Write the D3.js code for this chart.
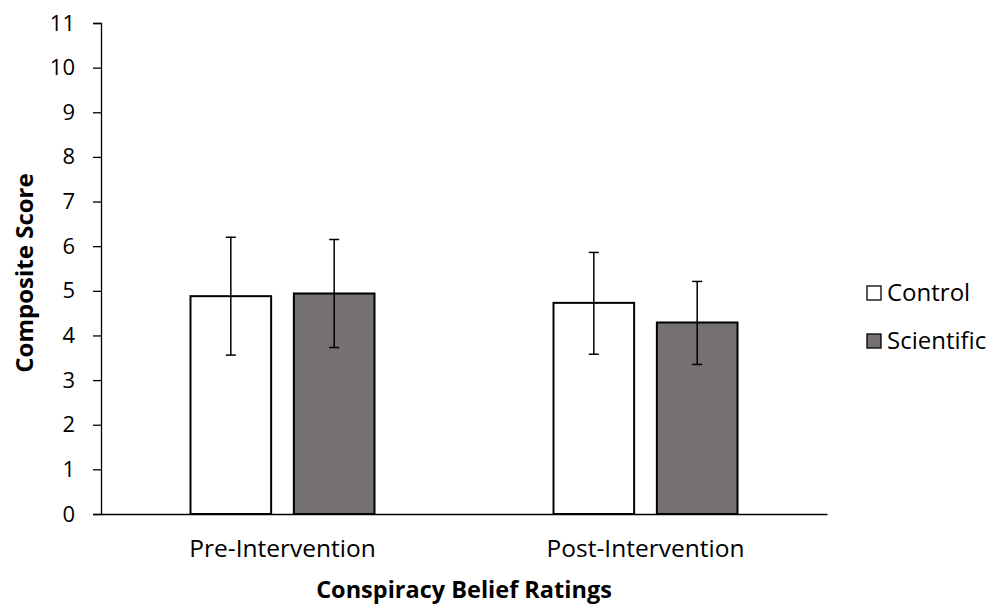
<!DOCTYPE html>
<html>
<head>
<meta charset="utf-8">
<script src="https://cdn.jsdelivr.net/npm/d3@7"></script>
<style>
  body { margin: 0; background: #fff; }
  text { font-family: "Open Sans", sans-serif; fill: #000; }
</style>
</head>
<body>
<svg id="chart" width="999" height="611"></svg>
<script>
const categories = ["Pre-Intervention", "Post-Intervention"];
const seriesNames = ["Control", "Scientific"];
const seriesColors = ["#ffffff", "#767171"];
const controlValues = [4.88, 4.73];
const scientificValues = [4.94, 4.29];
const controlErrLow = [3.56, 3.58];
const controlErrHigh = [6.20, 5.86];
const scientificErrLow = [3.73, 3.35];
const scientificErrHigh = [6.15, 5.21];
const yTicks = d3.range(0, 12);

const margin = {top: 23, right: 172, bottom: 97, left: 101},
  width = 999 - margin.left - margin.right,
  height = 611 - margin.top - margin.bottom;

const rows = [];
categories.forEach((c, i) => {
  rows.push({cat: c, s: 0, v: controlValues[i], lo: controlErrLow[i], hi: controlErrHigh[i]});
  rows.push({cat: c, s: 1, v: scientificValues[i], lo: scientificErrLow[i], hi: scientificErrHigh[i]});
});

const svg = d3.select("#chart");
const g = svg.append("g").attr("transform", `translate(${margin.left},${margin.top})`);

const x = d3.scaleBand().domain(categories).range([0, width]);
const xs = d3.scaleBand().domain([0, 1]).range([0, 184]).paddingInner(0.22);
const y = d3.scaleLinear().domain([0, 11]).range([height, 0]);

// y axis
const yAxis = g.append("g")
  .call(d3.axisLeft(y).tickValues(yTicks).tickSize(8).tickPadding(18).tickFormat(d3.format("d")));
yAxis.select(".domain").attr("stroke", "#000").attr("stroke-width", 1.3);
yAxis.selectAll(".tick line").attr("stroke", "#000").attr("stroke-width", 1.3);
yAxis.selectAll(".tick text").style("font-size", "22px").attr("font-family", null);

// bars
const barG = g.selectAll("g.bar")
  .data(rows)
  .join("g")
  .attr("class", "bar")
  .attr("transform", d => `translate(${x(d.cat) + x.bandwidth() / 2 - 92 + xs(d.s)},0)`);

barG.append("rect")
  .attr("x", 0)
  .attr("y", d => y(d.v))
  .attr("width", xs.bandwidth())
  .attr("height", d => height - y(d.v))
  .attr("fill", d => seriesColors[d.s])
  .attr("stroke", "#000")
  .attr("stroke-width", 2);

// error bars
const cx = xs.bandwidth() / 2;
barG.append("line")
  .attr("x1", cx).attr("x2", cx)
  .attr("y1", d => y(d.hi)).attr("y2", d => y(d.lo))
  .attr("stroke", "#000").attr("stroke-width", 1.5);
barG.selectAll("line.cap")
  .data(d => [d.lo, d.hi])
  .join("line")
  .attr("class", "cap")
  .attr("x1", cx - 5).attr("x2", cx + 5)
  .attr("y1", v => y(v)).attr("y2", v => y(v))
  .attr("stroke", "#000").attr("stroke-width", 1.5);

// x axis
const xAxis = g.append("g")
  .attr("transform", `translate(0,${height})`)
  .call(d3.axisBottom(x).tickSize(0).tickPadding(26));
xAxis.select(".domain").attr("stroke", "#000").attr("stroke-width", 1.3);
xAxis.selectAll(".tick text").style("font-size", "24.5px").attr("font-family", null);

// axis titles
svg.append("text")
  .attr("transform", `translate(33,${273}) rotate(-90)`)
  .attr("text-anchor", "middle")
  .style("font-size", "24px").style("font-weight", "bold")
  .text("Composite Score");

svg.append("text")
  .attr("x", 464)
  .attr("y", 598)
  .attr("text-anchor", "middle")
  .style("font-size", "23.5px").style("font-weight", "bold")
  .text("Conspiracy Belief Ratings");

// legend
const legend = svg.append("g").attr("transform", "translate(867,286)");
const li = legend.selectAll("g")
  .data(seriesNames)
  .join("g")
  .attr("transform", (d, i) => `translate(0,${i * 48})`);
li.append("rect")
  .attr("width", 14).attr("height", 14)
  .attr("fill", (d, i) => seriesColors[i])
  .attr("stroke", "#000").attr("stroke-width", 1.3);
li.append("text")
  .attr("x", 20).attr("y", 15)
  .style("font-size", "24px")
  .text(d => d);
</script>
</body>
</html>
